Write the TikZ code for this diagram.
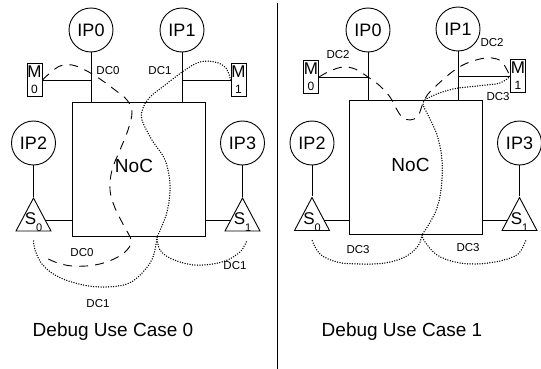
\documentclass[tikz,border=0pt]{standalone}
\usepackage{fontspec}
\setmainfont{Liberation Sans}
\usetikzlibrary{shapes.geometric}
\newcommand{\swlabel}[1]{\smash{\makebox[0pt]{\raisebox{-4pt}{S\raisebox{-7pt}{\fontsize{11}{11}\selectfont #1}}}}}

\begin{document}
\begin{tikzpicture}[x=1pt, y=-1pt, line width=0.9pt,
  ip/.style={draw,circle,minimum size=44pt,inner sep=0pt,font=\fontsize{18}{18}\selectfont},
  noc/.style={draw,minimum width=133pt,minimum height=134pt,inner sep=0pt,
    label={[xshift=-5pt,yshift=3pt,font=\fontsize{19}{19}\selectfont]center:NoC}},
  mem/.style={draw,minimum width=15pt,minimum height=33pt,inner sep=0pt,align=center,font=\fontsize{17}{16}\selectfont},
  sw/.style={draw,isosceles triangle,shape border rotate=90,isosceles triangle stretches,
    minimum width=35pt,minimum height=33pt,inner sep=0pt,font=\fontsize{17}{17}\selectfont},
  dc/.style={font=\fontsize{11.5}{12}\selectfont},
  title/.style={font=\fontsize{19}{22}\selectfont},
  dcdash/.style={dash pattern=on 9pt off 7pt},
  dcdot/.style={line width=1.5pt,line cap=round,dash pattern=on 0pt off 2.5pt}]
\useasboundingbox (0,0) rectangle (541,369);
\node[noc] (nocA) at (139,169) {};
\node[ip] (ipA0) at (91,30) {IP0};
\node[ip] (ipA1) at (182,30) {IP1};
\node[ip] (ipA2) at (33.5,143) {IP2};
\node[ip] (ipA3) at (242.5,143) {IP3};
\node[mem] (mA0) at (34.5,80) {M\\{\fontsize{12}{12}\selectfont 0}};
\node[mem] (mA1) at (238.5,80) {M\\{\fontsize{12}{12}\selectfont 1}};
\node[sw] (sA0) at (33.5,220.5) {\swlabel{0}};
\node[sw] (sA1) at (242.5,220.5) {\swlabel{1}};
\draw (ipA0) -- (ipA0 |- nocA.north);
\draw (ipA1) -- (ipA1 |- nocA.north);
\draw (mA0) -- (ipA0 |- mA0);
\draw (mA1) -- (ipA1 |- mA1);
\draw (ipA2) -- (sA0.apex);
\draw (ipA3) -- (sA1.apex);
\draw (sA0) -- (sA0 -| nocA.west);
\draw (sA1) -- (sA1 -| nocA.east);
\draw[dcdash] plot[smooth,tension=0.6] coordinates {(mA0.east) (50,73) (60,66) (72,65) (85,70) (100,79) (115,90) (127,100) (132,112) (128,130) (120,150) (112,170) (110,190) (115,208) (124,226) (131,240) (127,250) (114,259) (95,265) (72,266) (55,262) (43,256)};
\draw[dcdot] plot[smooth,tension=0.6] coordinates {(mA1.west) (226,68) (215,62) (200,62) (185,70) (165,85) (150,97) (143,108) (142,120) (152,140) (165,160) (170,185) (167,212) (157,237)};
\draw[dcdot] plot[smooth,tension=0.6] coordinates {(157,237) (153,257) (143,272) (127,284) (100,287) (75,283) (55,275) (42,264) (35,250) (33.5,240)};
\draw[dcdot] plot[smooth,tension=0.6] coordinates {(157,237) (160,250) (172,259) (195,265) (222,262) (240,252) (247,240)};
\node[dc] (lA0) at (108,71) {DC0};
\node[dc] (lA1) at (160,71) {DC1};
\node[dc] (lA2) at (82,253) {DC0};
\node[dc] (lA3) at (235,266) {DC1};
\node[dc] (lA4) at (98,304) {DC1};
\node[title] (tA) at (113,332) {Debug Use Case 0};
\draw (277,3) -- (277,369);
\node[noc] (nocB) at (415.5,167.5) {};
\node[ip] (ipB0) at (368,30) {IP0};
\node[ip] (ipB1) at (458,29) {IP1};
\node[ip] (ipB2) at (312,143) {IP2};
\node[ip] (ipB3) at (519.5,143) {IP3};
\node[mem] (mB0) at (311,77) {M\\{\fontsize{12}{12}\selectfont 0}};
\node[mem] (mB1) at (518,76) {M\\{\fontsize{12}{12}\selectfont 1}};
\node[sw] (sB0) at (312,220) {\swlabel{0}};
\node[sw] (sB1) at (519.5,220) {\swlabel{1}};
\draw (ipB0) -- (ipB0 |- nocB.north);
\draw (ipB1) -- (ipB1 |- nocB.north);
\draw (mB0) -- (ipB0 |- mB0);
\draw (mB1) -- (ipB1 |- mB1);
\draw (ipB2) -- (sB0.apex);
\draw (ipB3) -- (sB1.apex);
\draw (sB0) -- (sB0 -| nocB.west);
\draw (sB1) -- (sB1 -| nocB.east);
\draw[dcdash] plot[smooth,tension=0.6] coordinates {(mB0.east) (330,71) (343,67) (355,69) (368,77) (380,86) (390,97) (396,108) (402,117) (410,120) (418,116) (423,103) (428,94) (437,85) (452,72) (465,64) (480,59) (492,58) (502,62) (mB1.west)};
\draw[dcdot] plot[smooth,tension=0.6] coordinates {(mB1.west) (500,83) (477,86) (453,89) (432,96) (423,103) (428,115) (437,135) (442,160) (441,190) (435,213) (422,235)};
\draw[dcdot] plot[smooth,tension=0.6] coordinates {(422,235) (418,246) (405,257) (385,263) (360,264) (337,262) (320,254) (312,240)};
\draw[dcdot] plot[smooth,tension=0.6] coordinates {(422,235) (425,242) (437,255) (455,262) (475,264) (500,261) (518,254) (526,240)};
\node[dc] (lB0) at (338,55) {DC2};
\node[dc] (lB1) at (492,43) {DC2};
\node[dc] (lB2) at (498,97) {DC3};
\node[dc] (lB3) at (358,250) {DC3};
\node[dc] (lB4) at (468,248) {DC3};
\node[title] (tB) at (402,332) {Debug Use Case 1};
\end{tikzpicture}
\end{document}
